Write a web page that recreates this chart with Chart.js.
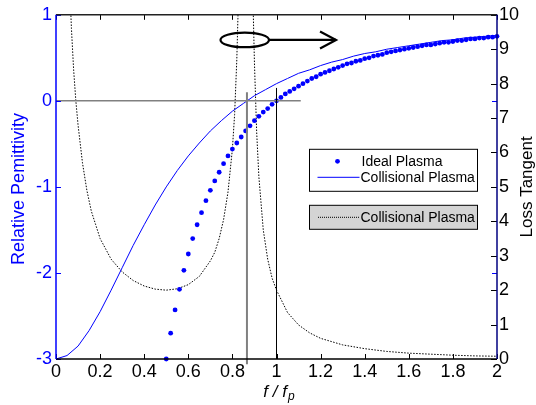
<!DOCTYPE html>
<html>
<head>
<meta charset="utf-8">
<script src="https://cdn.jsdelivr.net/npm/chart.js@4/dist/chart.umd.min.js"></script>
<style>
  html, body { margin: 0; padding: 0; background: #fff; }
</style>
</head>
<body>
<canvas id="grafico" width="536" height="405"></canvas>
<script>
// Plasma ideal (pontos) - permissividade relativa
const idealF = [0.50, 0.52, 0.54, 0.56, 0.58, 0.60, 0.62, 0.64, 0.66, 0.68, 0.70, 0.72, 0.74, 0.76, 0.78,
    0.80, 0.82, 0.84, 0.86, 0.88, 0.90, 0.92, 0.94, 0.96, 0.98, 1.00, 1.02, 1.04, 1.06, 1.08, 1.10, 1.12,
    1.14, 1.16, 1.18, 1.20, 1.22, 1.24, 1.26, 1.28, 1.30, 1.32, 1.34, 1.36, 1.38, 1.40, 1.42, 1.44, 1.46,
    1.48, 1.50, 1.52, 1.54, 1.56, 1.58, 1.60, 1.62, 1.64, 1.66, 1.68, 1.70, 1.72, 1.74, 1.76, 1.78, 1.80,
    1.82, 1.84, 1.86, 1.88, 1.90, 1.92, 1.94, 1.96, 1.98, 2.00];
const idealEps = [-3.00, -2.70, -2.43, -2.19, -1.97, -1.78, -1.60, -1.44, -1.30, -1.16, -1.04, -0.93, -0.83,
    -0.73, -0.64, -0.56, -0.49, -0.42, -0.35, -0.29, -0.23, -0.18, -0.13, -0.09, -0.04, 0.00, 0.04, 0.08,
    0.11, 0.14, 0.17, 0.20, 0.23, 0.26, 0.28, 0.31, 0.33, 0.35, 0.37, 0.39, 0.41, 0.43, 0.44, 0.46, 0.47,
    0.49, 0.50, 0.52, 0.53, 0.54, 0.56, 0.57, 0.58, 0.59, 0.60, 0.61, 0.62, 0.63, 0.64, 0.65, 0.65, 0.66,
    0.67, 0.68, 0.68, 0.69, 0.70, 0.70, 0.71, 0.72, 0.72, 0.73, 0.73, 0.74, 0.74, 0.75];

// Plasma colisional (linha cheia) - permissividade relativa
const colisF = [0, 0.05, 0.10, 0.15, 0.20, 0.25, 0.30, 0.35, 0.40, 0.45, 0.50, 0.55, 0.60, 0.65, 0.70, 0.75,
    0.80, 0.85, 0.90, 0.95, 1.00, 1.05, 1.10, 1.15, 1.20, 1.25, 1.30, 1.35, 1.40, 1.45, 1.50, 1.55, 1.60,
    1.65, 1.70, 1.75, 1.80, 1.85, 1.90, 1.95, 2.00];
const colisEps = [-3.00, -2.96, -2.85, -2.67, -2.45, -2.20, -1.94, -1.68, -1.44, -1.21, -1.00, -0.81, -0.64,
    -0.49, -0.35, -0.23, -0.12, -0.03, 0.06, 0.13, 0.20, 0.26, 0.32, 0.36, 0.41, 0.45, 0.48, 0.52, 0.55,
    0.57, 0.60, 0.62, 0.64, 0.66, 0.68, 0.70, 0.71, 0.73, 0.74, 0.75, 0.76];

// Plasma colisional (pontilhado) - tangente de perdas (eixo direito)
const perdaF = [0.06, 0.07, 0.08, 0.09, 0.10, 0.12, 0.14, 0.16, 0.18, 0.20, 0.25, 0.30, 0.35, 0.40, 0.45,
    0.50, 0.55, 0.60, 0.65, 0.70, 0.72, 0.74, 0.76, 0.78, 0.80, 0.81, 0.82, 0.825, 0.83, 0.866,
    0.893, 0.90, 0.91, 0.92, 0.94, 0.96, 0.98, 1.00, 1.05, 1.10, 1.15, 1.20, 1.30, 1.40, 1.50, 1.60,
    1.70, 1.80, 1.90, 2.00];
const perdaTan = [11.2, 9.6, 8.4, 7.5, 6.8, 5.7, 4.9, 4.3, 3.9, 3.5, 2.9, 2.53, 2.28, 2.12, 2.03,
    2.00, 2.04, 2.16, 2.40, 2.85, 3.1, 3.5, 4.05, 4.85, 6.1, 7.1, 8.7, 9.9, 11.3, null,
    10.5, 8.6, 6.6, 5.3, 3.75, 2.9, 2.35, 2.0, 1.35, 0.99, 0.76, 0.60, 0.41, 0.30, 0.22, 0.17,
    0.14, 0.11, 0.09, 0.08];

// Linhas de referência (permissividade = 0 e frequências de corte)
const zeroF = [0, 1.11];
const zeroEps = [0, 0];
const corteColisF = [0.866, 0.866];
const corteColisEps = [-3.06, 0.10];
const corteIdealF = [1, 1];
const corteIdealEps = [-3, 0.15];

// Marcas dos eixos
const xTicks = [0, 0.2, 0.4, 0.6, 0.8, 1, 1.2, 1.4, 1.6, 1.8, 2];
const xTickLabels = ['0', '0.2', '0.4', '0.6', '0.8', '1', '1.2', '1.4', '1.6', '1.8', '2'];
const epsTicks = [-3, -2, -1, 0, 1];
const epsTickLabels = ['-3', '-2', '-1', '0', '1'];
const tanTicks = [0, 1, 2, 3, 4, 5, 6, 7, 8, 9, 10];
const tanTickLabels = ['0', '1', '2', '3', '4', '5', '6', '7', '8', '9', '10'];

// Elipse e seta de anotação (coordenadas do eixo direito)
const elipseF = 0.856;
const elipseTan = 9.27;
const elipseRaioF = 0.11;
const elipseRaioTan = 0.212;
const setaF = [0.966, 1.27];
const setaTan = [9.27, 9.27];

const pares = (xs, ys) => xs.map((x, i) => ({ x: x, y: ys[i] }));

const AZUL = '#0000ff';
const FONTE = "'Liberation Sans', Arial, Helvetica, sans-serif";
Chart.defaults.font.family = FONTE;

// Marcas internas, bordas e títulos no estilo do MATLAB
const eixosMatlab = {
    id: 'eixosMatlab',
    afterDatasetsDraw(chart) {
        const { ctx, chartArea: a, scales } = chart;
        const tam = 5;
        const linha = (x1, y1, x2, y2) => {
            ctx.beginPath();
            ctx.moveTo(x1, y1);
            ctx.lineTo(x2, y2);
            ctx.stroke();
        };
        ctx.save();
        ctx.lineWidth = 1;

        // marcas do eixo esquerdo (também aparecem à direita)
        ctx.strokeStyle = AZUL;
        scales.y.ticks.forEach(t => {
            const py = Math.round(scales.y.getPixelForValue(t.value)) + 0.5;
            linha(a.left, py, a.left + tam, py);
            linha(a.right, py, a.right - tam, py);
        });

        ctx.strokeStyle = '#000';
        scales.y2.ticks.forEach(t => {
            const py = Math.round(scales.y2.getPixelForValue(t.value)) + 0.5;
            linha(a.right, py, a.right - tam - 1, py);
        });
        scales.x.ticks.forEach(t => {
            const px = Math.round(scales.x.getPixelForValue(t.value)) + 0.5;
            linha(px, a.bottom, px, a.bottom - tam);
            linha(px, a.top, px, a.top + tam);
        });

        // bordas
        ctx.lineWidth = 1.5;
        ctx.strokeStyle = '#222';
        linha(a.left, a.top, a.right, a.top);
        ctx.strokeStyle = '#000';
        linha(a.left, a.bottom, a.right, a.bottom);
        ctx.strokeStyle = AZUL;
        linha(a.left, a.top, a.left, a.bottom);
        ctx.strokeStyle = '#000080';
        linha(a.right, a.top, a.right, a.bottom);

        // elipse e seta
        const xs = scales.x, ys = scales.y2;
        const cx = xs.getPixelForValue(elipseF);
        const cy = ys.getPixelForValue(elipseTan);
        const rx = xs.getPixelForValue(elipseF + elipseRaioF) - cx;
        const ry = cy - ys.getPixelForValue(elipseTan + elipseRaioTan);
        ctx.lineWidth = 2.2;
        ctx.strokeStyle = '#000';
        ctx.beginPath();
        ctx.ellipse(cx, cy, rx, ry, 0, 0, Math.PI * 2);
        ctx.stroke();
        const x1 = xs.getPixelForValue(setaF[0]), x2 = xs.getPixelForValue(setaF[1]);
        const y1 = ys.getPixelForValue(setaTan[0]), y2 = ys.getPixelForValue(setaTan[1]);
        linha(x1, y1, x2, y2);
        ctx.beginPath();
        ctx.moveTo(x2 - 16, y2 - 8.5);
        ctx.lineTo(x2, y2);
        ctx.lineTo(x2 - 16, y2 + 8.5);
        ctx.stroke();

        ctx.restore();
    },
    afterDraw(chart) {
        const { ctx, chartArea: a } = chart;
        const meioY = (a.top + a.bottom) / 2;
        ctx.save();

        // título esquerdo
        ctx.textAlign = 'center';
        ctx.textBaseline = 'middle';
        ctx.fillStyle = AZUL;
        ctx.font = '18px ' + FONTE;
        ctx.translate(19, meioY + 2);
        ctx.rotate(-Math.PI / 2);
        ctx.fillText('Relative Pemittivity', 0, 0);
        ctx.setTransform(1, 0, 0, 1, 0, 0);

        // título direito
        ctx.fillStyle = '#000';
        ctx.font = '17px ' + FONTE;
        ctx.translate(a.right + 30, meioY);
        ctx.rotate(-Math.PI / 2);
        ctx.fillText('Loss Tangent', 0, 0);
        ctx.setTransform(1, 0, 0, 1, 0, 0);

        // título do eixo x: f / f_p
        ctx.textAlign = 'left';
        ctx.textBaseline = 'alphabetic';
        const principal = 'italic 17px ' + FONTE;
        const indice = 'italic 12px ' + FONTE;
        ctx.font = principal;
        const w1 = ctx.measureText('f / f').width;
        ctx.font = indice;
        const w2 = ctx.measureText('p').width;
        const x0 = (a.left + a.right) / 2 + 2 - (w1 + w2) / 2;
        const base = a.bottom + 38;
        ctx.font = principal;
        ctx.fillText('f / f', x0, base);
        ctx.font = indice;
        ctx.fillText('p', x0 + w1 + 1, base + 3);

        // legendas
        const lx = a.left + 253.5;
        const lw = 168;
        ctx.lineWidth = 1;
        ctx.strokeStyle = '#000';
        ctx.fillStyle = '#fff';
        ctx.fillRect(lx, a.top + 134.5, lw, 42);
        ctx.strokeRect(lx, a.top + 134.5, lw, 42);
        ctx.fillStyle = '#d4d4d4';
        ctx.fillRect(lx, a.top + 190.5, lw, 24);
        ctx.strokeRect(lx, a.top + 190.5, lw, 24);

        ctx.font = '14px ' + FONTE;
        ctx.textBaseline = 'middle';
        ctx.fillStyle = AZUL;
        ctx.beginPath();
        ctx.arc(lx + 28, a.top + 146.5, 2.4, 0, Math.PI * 2);
        ctx.fill();
        ctx.strokeStyle = AZUL;
        ctx.beginPath();
        ctx.moveTo(lx + 8, a.top + 162.5);
        ctx.lineTo(lx + 50, a.top + 162.5);
        ctx.stroke();
        ctx.strokeStyle = '#000';
        ctx.setLineDash([1, 1]);
        ctx.beginPath();
        ctx.moveTo(lx + 8.5, a.top + 202.5);
        ctx.lineTo(lx + 50.5, a.top + 202.5);
        ctx.stroke();
        ctx.setLineDash([]);

        ctx.fillStyle = '#000';
        ctx.fillText('Ideal Plasma', lx + 52, a.top + 147);
        ctx.fillText('Collisional Plasma', lx + 51, a.top + 163);
        ctx.fillText('Collisional Plasma', lx + 51, a.top + 203);

        ctx.restore();
    }
};

const eixoFixo = (lista, rotulos) => ({
    afterBuildTicks: scale => { scale.ticks = lista.map(v => ({ value: v })); },
    callback: (v, i) => rotulos[i]
});

const ctxGrafico = document.getElementById('grafico').getContext('2d');
new Chart(ctxGrafico, {
    type: 'line',
    data: {
        datasets: [{
            label: 'Ideal Plasma',
            data: pares(idealF, idealEps),
            yAxisID: 'y',
            showLine: false,
            pointRadius: 2.4,
            pointBackgroundColor: AZUL,
            pointBorderWidth: 0,
            clip: false,
            order: 3
        }, {
            label: 'Collisional Plasma',
            data: pares(colisF, colisEps),
            yAxisID: 'y',
            borderColor: AZUL,
            borderWidth: 1,
            pointRadius: 0,
            order: 4
        }, {
            label: 'Collisional Plasma (tan)',
            data: pares(perdaF, perdaTan),
            yAxisID: 'y2',
            borderColor: '#000',
            borderWidth: 1,
            borderDash: [1.5, 1.5],
            pointRadius: 0,
            order: 5
        }, {
            label: 'zero',
            data: pares(zeroF, zeroEps),
            yAxisID: 'y',
            borderColor: '#808080',
            borderWidth: 1.5,
            pointRadius: 0,
            order: 2
        }, {
            label: 'corte colisional',
            data: pares(corteColisF, corteColisEps),
            yAxisID: 'y',
            borderColor: '#808080',
            borderWidth: 2,
            pointRadius: 0,
            clip: false,
            order: 1
        }, {
            label: 'corte ideal',
            data: pares(corteIdealF, corteIdealEps),
            yAxisID: 'y',
            borderColor: '#000',
            borderWidth: 1,
            pointRadius: 0,
            order: 0
        }]
    },
    options: {
        responsive: false,
        animation: false,
        layout: { padding: { top: 13, left: 0, right: 0, bottom: 0 } },
        plugins: {
            legend: { display: false },
            tooltip: { enabled: false }
        },
        scales: {
            x: {
                type: 'linear',
                min: 0,
                max: 2,
                grid: { display: false, drawTicks: false },
                border: { display: false },
                afterBuildTicks: eixoFixo(xTicks, xTickLabels).afterBuildTicks,
                afterFit: scale => { scale.height = 46; },
                ticks: {
                    color: '#000',
                    padding: 2,
                    maxRotation: 0,
                    font: { size: 18 },
                    callback: eixoFixo(xTicks, xTickLabels).callback
                }
            },
            y: {
                position: 'left',
                min: -3,
                max: 1,
                grid: { display: false, drawTicks: false },
                border: { display: false },
                afterBuildTicks: eixoFixo(epsTicks, epsTickLabels).afterBuildTicks,
                afterFit: scale => { scale.width = 56; },
                ticks: {
                    color: AZUL,
                    padding: 4,
                    font: { size: 18 },
                    callback: eixoFixo(epsTicks, epsTickLabels).callback
                }
            },
            y2: {
                position: 'right',
                min: 0,
                max: 10,
                grid: { display: false, drawTicks: false },
                border: { display: false },
                afterBuildTicks: eixoFixo(tanTicks, tanTickLabels).afterBuildTicks,
                afterFit: scale => { scale.width = 39; },
                ticks: {
                    color: '#000',
                    padding: 2,
                    font: { size: 18 },
                    callback: eixoFixo(tanTicks, tanTickLabels).callback
                }
            }
        }
    },
    plugins: [eixosMatlab]
});
</script>
</body>
</html>
